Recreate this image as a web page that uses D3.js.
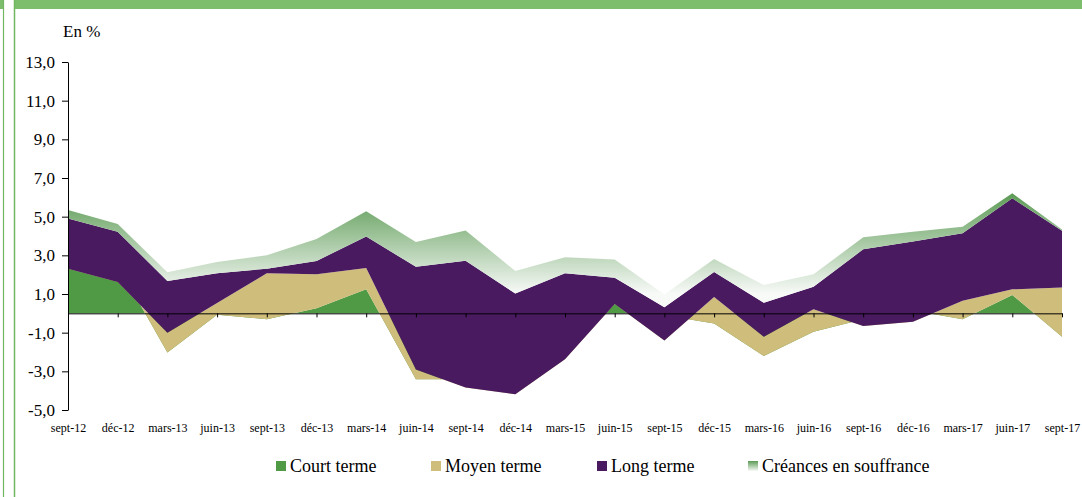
<!DOCTYPE html>
<html>
<head>
<meta charset="utf-8">
<script src="https://cdn.jsdelivr.net/npm/d3@7"></script>
<style>
  body { margin: 0; background: #fff; }
  svg { display: block; font-family: "Liberation Serif", "Times New Roman", serif; }
</style>
</head>
<body>
<div id="chart"></div>
<script>
// Trimestres
const categories = ["sept-12", "déc-12", "mars-13", "juin-13", "sept-13", "déc-13", "mars-14",
  "juin-14", "sept-14", "déc-14", "mars-15", "juin-15", "sept-15", "déc-15", "mars-16",
  "juin-16", "sept-16", "déc-16", "mars-17", "juin-17", "sept-17"];

// Contributions (en points de %)
const courtTerme = [2.31, 2.50, -2.03, -0.07, -0.30, 0.26, 1.24, -3.41, -3.40, -3.00, -1.50,
  0.48, -0.10, -0.52, -2.21, -0.95, -0.30, 0.15, -0.31, 0.95, -1.21];
const moyenTerme = [0.00, -0.88, 1.03, 0.60, 2.37, 1.76, 1.10, 0.51, -0.43, -1.19, -0.88,
  0.00, -1.31, 1.36, 1.00, 1.16, -0.36, -0.58, 0.96, 0.29, 2.55];
const longTerme = [2.59, 2.60, 2.67, 1.54, 0.24, 0.69, 1.63, 5.31, 6.55, 5.21, 4.45,
  1.36, 1.72, 1.30, 1.76, 1.17, 3.97, 4.15, 3.49, 4.71, 2.93];
const creances = [0.44, 0.40, 0.45, 0.58, 0.69, 1.13, 1.31, 1.28, 1.57, 1.17, 0.83,
  0.95, 0.67, 0.67, 0.92, 0.64, 0.62, 0.50, 0.34, 0.26, 0.07];

const yTicks = [13, 11, 9, 7, 5, 3, 1, -1, -3, -5];

const seriesNames = ["Court terme", "Moyen terme", "Long terme", "Créances en souffrance"];
const seriesValues = [courtTerme, moyenTerme, longTerme, creances];

const width = 1082;
const height = 497;

const svg = d3.select("#chart")
  .append("svg")
  .attr("width", width)
  .attr("height", height);

// cadre vert de la page
svg.append("rect").attr("x", 14).attr("y", 0).attr("width", width - 14).attr("height", 9).attr("fill", "#7dbe6c");
svg.append("line").attr("x1", 14.5).attr("x2", 14.5).attr("y1", 0).attr("y2", height).attr("stroke", "#72b662").attr("stroke-width", 1.5);
svg.append("rect").attr("x", 0).attr("y", 0).attr("width", 4).attr("height", 9).attr("fill", "#7dbe6c");
svg.append("line").attr("x1", 3.5).attr("x2", 3.5).attr("y1", 0).attr("y2", height).attr("stroke", "#72b662").attr("stroke-width", 1.2);

const x = d3.scalePoint().domain(categories).range([68, 1062]);
const y = d3.scaleLinear().domain([-5, 13]).range([410, 62]);

const fr = d3.formatLocale({ decimal: ",", thousands: " ", grouping: [3], currency: ["", " €"], minus: "-" });
const fmt = fr.format(".1f");

// table pour d3.stack
const table = categories.map((c, i) => {
  const row = { cat: c };
  seriesNames.forEach((k, j) => row[k] = seriesValues[j][i]);
  return row;
});

// empilement cumulatif (comme Excel : pas de séparation positif / négatif)
const stacked = d3.stack().keys(seriesNames).offset(d3.stackOffsetNone)(table);

const defs = svg.append("defs");
const grad = defs.append("linearGradient")
  .attr("id", "gradCreances")
  .attr("gradientUnits", "userSpaceOnUse")
  .attr("x1", 0).attr("x2", 0)
  .attr("y1", y(6.2)).attr("y2", y(1.0));
grad.append("stop").attr("offset", "0%").attr("stop-color", "#5c9b55");
grad.append("stop").attr("offset", "100%").attr("stop-color", "#f8faf8");

const legendGrad = defs.append("linearGradient")
  .attr("id", "gradLegend")
  .attr("x1", 0).attr("x2", 0).attr("y1", 0).attr("y2", 1);
legendGrad.append("stop").attr("offset", "0%").attr("stop-color", "#5c9b55");
legendGrad.append("stop").attr("offset", "100%").attr("stop-color", "#f8faf8");

const fills = ["#519a45", "#cfbd7b", "#4a1a61", "url(#gradCreances)"];

const area = d3.area()
  .x(d => x(d.data.cat))
  .y0(d => y(d[0]))
  .y1(d => y(d[1]));

svg.append("g")
  .selectAll("path")
  .data(stacked)
  .join("path")
  .attr("d", area)
  .attr("fill", (d, i) => fills[i]);

// axe des abscisses sur le zéro
const xAxis = svg.append("g")
  .attr("transform", `translate(0,${y(0)})`)
  .call(d3.axisBottom(x).tickSize(4).tickSizeOuter(0).tickFormat(""));
xAxis.select(".domain").attr("stroke", "#000");

// étiquettes en bas
const xLabels = svg.append("g")
  .attr("transform", `translate(0,${y(-5)})`)
  .call(d3.axisBottom(x).tickSize(0).tickPadding(13.5));
xLabels.select(".domain").remove();
xLabels.selectAll("text")
  .attr("font-family", "Liberation Serif, serif")
  .attr("font-size", 12)
  .attr("fill", "#000");

// axe des ordonnées
const yAxis = svg.append("g")
  .attr("transform", "translate(68,0)")
  .call(d3.axisLeft(y).tickValues(yTicks).tickFormat(fmt).tickSize(6).tickPadding(7).tickSizeOuter(0));
yAxis.selectAll("text")
  .attr("font-family", "Liberation Serif, serif")
  .attr("font-size", 17)
  .attr("fill", "#000");

svg.append("text")
  .attr("x", 63)
  .attr("y", 37)
  .attr("font-size", 17)
  .text("En %");

// légende
const legendX = [276, 431, 597, 748];
const legend = svg.append("g")
  .selectAll("g")
  .data(seriesNames)
  .join("g")
  .attr("transform", (d, i) => `translate(${legendX[i]},461)`);
legend.append("rect")
  .attr("width", 10).attr("height", 10)
  .attr("fill", (d, i) => i === 3 ? "url(#gradLegend)" : fills[i]);
legend.append("text")
  .attr("x", 14)
  .attr("y", 11)
  .attr("font-size", 18)
  .text(d => d);
</script>
</body>
</html>
